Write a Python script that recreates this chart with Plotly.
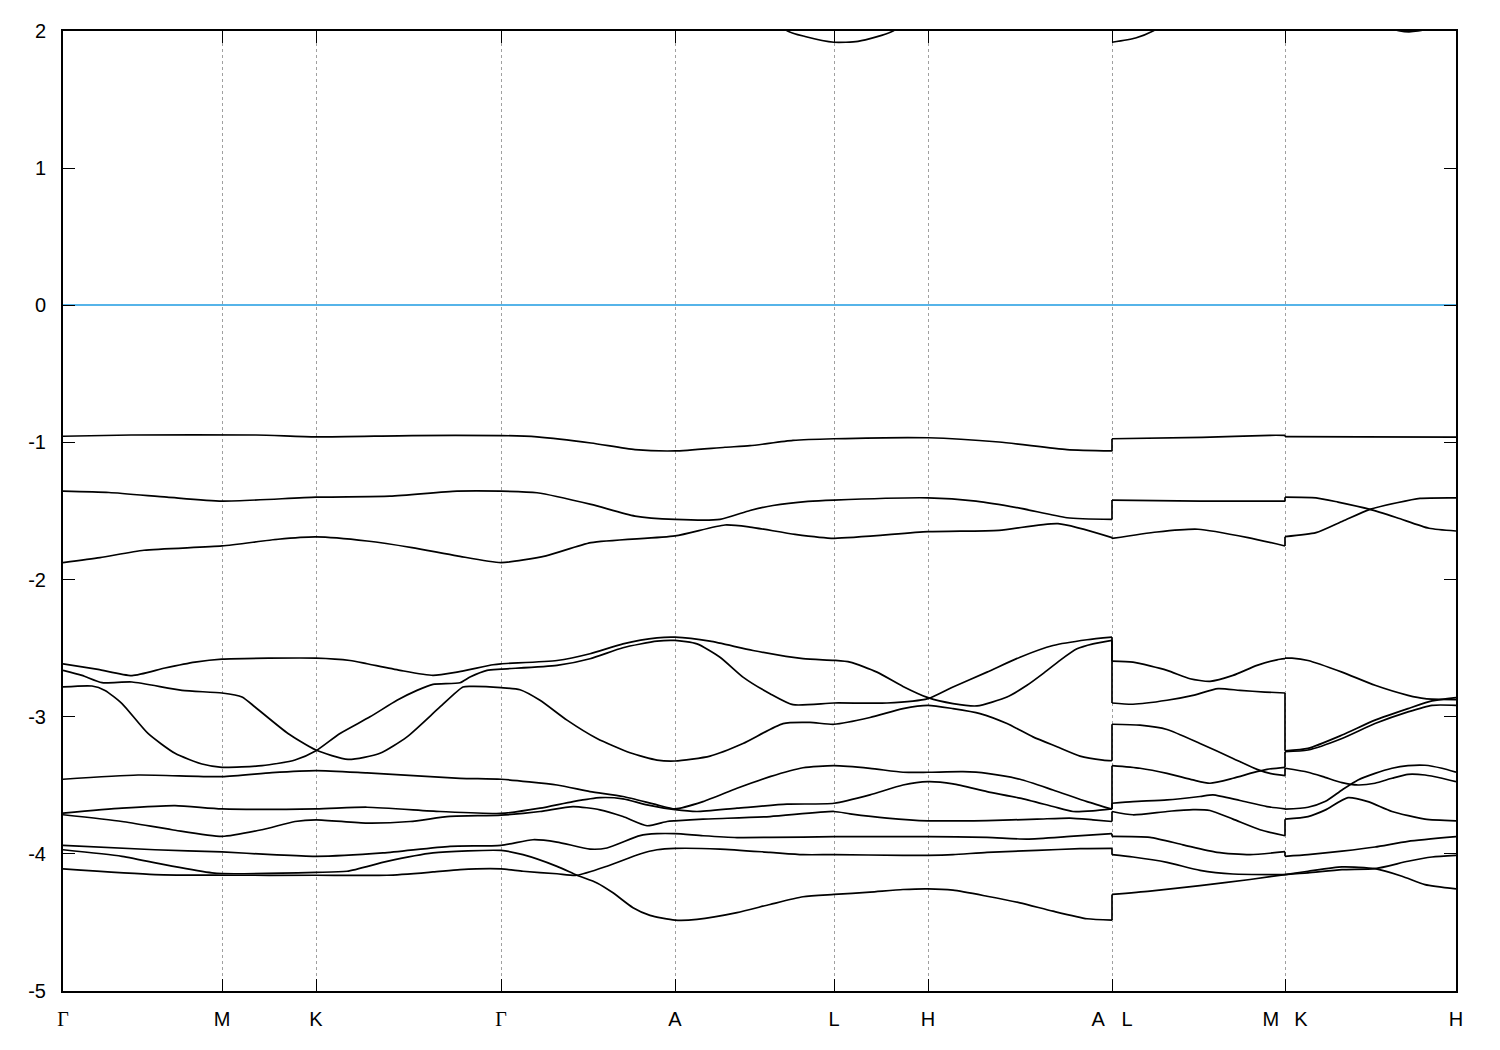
import numpy as np
import plotly.graph_objects as go

# ---------------- high-symmetry points (path coordinate) ----------------
kpt_pos = [0, 159, 253, 438, 612, 771, 865, 1049, 1222, 1393]
kpt_text = ['<span style="font-family:Liberation Serif">Γ</span>', "M", "K",
            '<span style="font-family:Liberation Serif">Γ</span>', "A", "L", "H",
            "A\u00a0\u00a0\u00a0L", "M\u00a0\u00a0\u2009K", "H"]
y_ticks = [-5, -4, -3, -2, -1, 0, 1, 2]
y_text = ["-5", "-4", "-3", "-2", "-1", "0", "1", "2"]

# ---------------- piece 1 : Γ-M-K-Γ-A-L-H-A ----------------
p1_b1_k = [0, 68, 193, 253, 349, 438, 474, 528, 572, 612, 662, 687, 730, 771, 865, 936, 1004, 1049]
p1_b1_E = [-0.955, -0.946, -0.946, -0.960, -0.950, -0.950, -0.960, -1.004, -1.052, -1.062, -1.035, -1.024,
           -0.985, -0.973, -0.966, -0.997, -1.052, -1.062]

p1_b2_k = [0, 46, 104, 159, 253, 327, 394, 438, 474, 528, 572, 612, 657, 687, 710, 745, 771, 865, 913, 958, 1004, 1049]
p1_b2_E = [-1.355, -1.365, -1.399, -1.428, -1.399, -1.392, -1.355, -1.355, -1.367, -1.452, -1.537, -1.561,
           -1.561, -1.496, -1.460, -1.430, -1.420, -1.404, -1.428, -1.481, -1.549, -1.561]

p1_b3_k = [0, 37, 81, 159, 215, 253, 304, 349, 394, 438, 483, 528, 612, 662, 687, 732, 771, 865, 936, 995, 1049]
p1_b3_E = [-1.876, -1.840, -1.786, -1.755, -1.706, -1.689, -1.719, -1.767, -1.827, -1.876, -1.827, -1.731,
           -1.682, -1.602, -1.617, -1.670, -1.699, -1.651, -1.641, -1.592, -1.694]

p1_b4_k = [0, 35, 69, 102, 132, 159, 253, 287, 304, 337, 370, 394, 430, 438, 494, 527, 560, 594, 612, 647,
           690, 740, 771, 787, 814, 840, 865, 890, 914, 944, 964, 980, 997, 1014, 1030, 1049]
p1_b4_E = [-2.614, -2.655, -2.700, -2.645, -2.602, -2.580, -2.573, -2.590, -2.614, -2.662, -2.699, -2.675,
           -2.621, -2.614, -2.590, -2.541, -2.469, -2.425, -2.420, -2.449, -2.517, -2.577, -2.589, -2.602,
           -2.675, -2.779, -2.861, -2.904, -2.921, -2.856, -2.771, -2.686, -2.589, -2.505, -2.469, -2.444]

p1_b5_k = [0, 29, 42, 59, 85, 112, 139, 159, 199, 232, 253, 277, 307, 334, 354, 370, 397, 407, 424, 438,
           494, 527, 560, 594, 612, 634, 657, 680, 707, 730, 771, 824, 865, 890, 924, 957, 990, 1024, 1049]
p1_b5_E = [-2.783, -2.776, -2.808, -2.904, -3.122, -3.267, -3.345, -3.369, -3.357, -3.316, -3.248, -3.122,
           -3.001, -2.880, -2.808, -2.764, -2.752, -2.711, -2.662, -2.653, -2.626, -2.577, -2.497, -2.449,
           -2.444, -2.469, -2.566, -2.711, -2.832, -2.912, -2.900, -2.900, -2.868, -2.783, -2.675, -2.566,
           -2.481, -2.439, -2.420]

p1_b6_k = [0, 19, 39, 69, 119, 159, 179, 192, 225, 253, 285, 317, 344, 377, 400, 410, 438, 457, 477, 504,
           534, 567, 594, 612, 647, 680, 720, 747, 771, 807, 840, 865, 890, 917, 944, 970, 994, 1017, 1040, 1049]
p1_b6_E = [-2.662, -2.699, -2.752, -2.747, -2.808, -2.827, -2.856, -2.929, -3.122, -3.243, -3.311, -3.267,
           -3.147, -2.929, -2.783, -2.779, -2.788, -2.803, -2.880, -3.025, -3.159, -3.263, -3.316, -3.323,
           -3.287, -3.195, -3.050, -3.042, -3.055, -3.006, -2.941, -2.917, -2.941, -2.977, -3.050, -3.147,
           -3.219, -3.287, -3.316, -3.321]

p1_b7_k = [0, 75, 159, 209, 253, 304, 397, 438, 494, 527, 560, 594, 612, 640, 674, 707, 740, 771, 807, 840,
           865, 900, 924, 957, 990, 1024, 1049]
p1_b7_E = [-3.456, -3.425, -3.437, -3.408, -3.393, -3.410, -3.449, -3.456, -3.498, -3.546, -3.582, -3.643,
           -3.672, -3.619, -3.522, -3.437, -3.372, -3.357, -3.376, -3.405, -3.405, -3.401, -3.413, -3.456,
           -3.534, -3.619, -3.674]

p1_b8_k = [0, 59, 112, 159, 253, 304, 377, 438, 477, 510, 537, 560, 584, 612, 634, 674, 724, 771, 807, 840,
           865, 890, 924, 957, 990, 1010, 1030, 1049]
p1_b8_E = [-3.703, -3.667, -3.648, -3.672, -3.672, -3.660, -3.691, -3.705, -3.667, -3.619, -3.590, -3.599,
           -3.643, -3.678, -3.691, -3.667, -3.638, -3.631, -3.570, -3.498, -3.474, -3.490, -3.546, -3.594,
           -3.655, -3.691, -3.686, -3.672]

p1_b9_k = [0, 59, 109, 159, 199, 232, 253, 304, 347, 387, 438, 477, 510, 537, 560, 584, 604, 612, 640, 707,
           771, 787, 824, 865, 924, 974, 1007, 1030, 1049]
p1_b9_E = [-3.715, -3.764, -3.824, -3.873, -3.824, -3.764, -3.752, -3.776, -3.764, -3.727, -3.718, -3.691,
           -3.655, -3.679, -3.728, -3.795, -3.764, -3.759, -3.747, -3.728, -3.691, -3.708, -3.739, -3.759,
           -3.757, -3.747, -3.739, -3.752, -3.764]

p1_b10_k = [0, 92, 159, 209, 253, 320, 387, 438, 470, 494, 527, 544, 577, 594, 612, 640, 674, 707, 771, 865,
            924, 964, 1007, 1049]
p1_b10_E = [-3.938, -3.970, -3.986, -4.006, -4.018, -3.993, -3.945, -3.938, -3.897, -3.914, -3.965, -3.957,
            -3.867, -3.853, -3.853, -3.868, -3.881, -3.880, -3.875, -3.875, -3.880, -3.892, -3.873, -3.853]

p1_b11_k = [0, 59, 109, 149, 159, 253, 284, 324, 370, 438, 460, 494, 514, 534, 550, 570, 587, 612, 634, 674,
            707, 740, 771, 807, 840, 865, 890, 924, 957, 990, 1024, 1049]
p1_b11_E = [-3.970, -4.018, -4.090, -4.139, -4.144, -4.135, -4.127, -4.055, -3.993, -3.975, -4.006, -4.091,
            -4.156, -4.212, -4.284, -4.393, -4.449, -4.483, -4.478, -4.429, -4.369, -4.313, -4.296, -4.279,
            -4.260, -4.255, -4.265, -4.309, -4.357, -4.418, -4.473, -4.483]

p1_b12_k = [0, 92, 159, 253, 324, 370, 397, 438, 460, 494, 514, 544, 577, 594, 612, 657, 707, 740, 771, 840,
            865, 890, 924, 974, 1017, 1049]
p1_b12_E = [-4.110, -4.151, -4.156, -4.156, -4.156, -4.132, -4.115, -4.110, -4.127, -4.145, -4.156, -4.090,
            -4.001, -3.970, -3.960, -3.965, -3.989, -4.006, -4.006, -4.011, -4.011, -4.006, -3.989, -3.975,
            -3.962, -3.960]

p1_cb_k = [690, 724.6, 742, 771, 795, 830, 860]
p1_cb_E = [2.25, 2.00, 1.96, 1.918, 1.925, 2.00, 2.20]

# ---------------- piece 2 : L-M ----------------
p2_b1_k = [1049, 1139, 1207, 1222]
p2_b1_E = [-0.973, -0.963, -0.948, -0.948]
p2_b2_k = [1049, 1137, 1222]
p2_b2_E = [-1.420, -1.428, -1.428]
p2_b3_k = [1049, 1094, 1135, 1185, 1222]
p2_b3_E = [-1.700, -1.653, -1.633, -1.694, -1.755]
p2_b4_k = [1049, 1070, 1104, 1127, 1147, 1170, 1194, 1214, 1222]
p2_b4_E = [-2.595, -2.602, -2.662, -2.723, -2.742, -2.699, -2.626, -2.585, -2.577]
p2_b5_k = [1049, 1070, 1104, 1130, 1155, 1177, 1202, 1222]
p2_b5_E = [-2.900, -2.909, -2.880, -2.844, -2.795, -2.808, -2.820, -2.827]
p2_b6_k = [1049, 1077, 1104, 1137, 1170, 1194, 1207, 1222]
p2_b6_E = [-3.055, -3.062, -3.093, -3.195, -3.304, -3.384, -3.413, -3.430]
p2_b7_k = [1049, 1077, 1104, 1130, 1147, 1170, 1190, 1204, 1222]
p2_b7_E = [-3.357, -3.376, -3.413, -3.461, -3.485, -3.449, -3.408, -3.384, -3.369]
p2_b8_k = [1049, 1070, 1104, 1137, 1150, 1177, 1204, 1222]
p2_b8_E = [-3.631, -3.619, -3.607, -3.582, -3.570, -3.611, -3.655, -3.672]
p2_b9_k = [1049, 1070, 1104, 1130, 1147, 1170, 1197, 1222]
p2_b9_E = [-3.691, -3.715, -3.691, -3.678, -3.684, -3.747, -3.824, -3.868]
p2_b10_k = [1049, 1087, 1120, 1154, 1187, 1222]
p2_b10_E = [-3.873, -3.880, -3.934, -3.989, -4.006, -3.984]
p2_b11_k = [1049, 1070, 1104, 1137, 1170, 1222]
p2_b11_E = [-4.006, -4.023, -4.062, -4.120, -4.147, -4.151]
p2_b12_k = [1049, 1087, 1137, 1187, 1222]
p2_b12_E = [-4.296, -4.272, -4.231, -4.187, -4.151]

p2_cb_k = [1049, 1072.6, 1090, 1120]
p2_cb_E = [1.918, 1.949, 2.00, 2.15]

# ---------------- piece 3 : K-H ----------------
p3_b1_k = [1222, 1298, 1393]
p3_b1_E = [-0.957, -0.960, -0.962]
p3_b2_k = [1222, 1253, 1275, 1307, 1334, 1366, 1393]
p3_b2_E = [-1.399, -1.404, -1.435, -1.488, -1.549, -1.626, -1.646]
p3_b3_k = [1222, 1253, 1280, 1307, 1334, 1357, 1393]
p3_b3_E = [-1.687, -1.658, -1.573, -1.488, -1.440, -1.408, -1.404]
p3_b4_k = [1222, 1229, 1245, 1279, 1312, 1345, 1362, 1393]
p3_b4_E = [-2.573, -2.573, -2.590, -2.675, -2.771, -2.844, -2.868, -2.875]
p3_b5_k = [1222, 1245, 1279, 1312, 1345, 1369, 1393]
p3_b5_E = [-3.248, -3.231, -3.134, -3.025, -2.941, -2.885, -2.861]
p3_b6_k = [1222, 1245, 1279, 1312, 1345, 1369, 1393]
p3_b6_E = [-3.255, -3.243, -3.159, -3.050, -2.965, -2.917, -2.917]
p3_b7_k = [1222, 1245, 1262, 1279, 1295, 1312, 1329, 1345, 1362, 1379, 1393]
p3_b7_E = [-3.376, -3.405, -3.442, -3.481, -3.498, -3.485, -3.449, -3.420, -3.425, -3.449, -3.474]
p3_b8_k = [1222, 1245, 1262, 1279, 1295, 1312, 1329, 1345, 1362, 1379, 1393]
p3_b8_E = [-3.674, -3.660, -3.619, -3.534, -3.461, -3.413, -3.376, -3.357, -3.354, -3.376, -3.405]
p3_b9_k = [1222, 1245, 1262, 1285, 1305, 1329, 1362, 1393]
p3_b9_E = [-3.747, -3.728, -3.681, -3.590, -3.619, -3.691, -3.747, -3.759]
p3_b10_k = [1222, 1245, 1279, 1312, 1345, 1393]
p3_b10_E = [-4.018, -4.006, -3.980, -3.950, -3.909, -3.875]
p3_b11_k = [1222, 1245, 1279, 1312, 1339, 1362, 1393]
p3_b11_E = [-4.151, -4.127, -4.095, -4.108, -4.163, -4.224, -4.255]
p3_b12_k = [1222, 1245, 1279, 1312, 1345, 1369, 1393]
p3_b12_E = [-4.151, -4.139, -4.115, -4.108, -4.054, -4.023, -4.011]

p3_cb_k = [1300, 1337, 1346, 1355, 1393]
p3_cb_E = [2.08, 2.00, 1.994, 2.00, 2.06]

piece1 = [(p1_b1_k, p1_b1_E), (p1_b2_k, p1_b2_E), (p1_b3_k, p1_b3_E), (p1_b4_k, p1_b4_E),
          (p1_b5_k, p1_b5_E), (p1_b6_k, p1_b6_E), (p1_b7_k, p1_b7_E), (p1_b8_k, p1_b8_E),
          (p1_b9_k, p1_b9_E), (p1_b10_k, p1_b10_E), (p1_b11_k, p1_b11_E), (p1_b12_k, p1_b12_E)]
piece2 = [(p2_b1_k, p2_b1_E), (p2_b2_k, p2_b2_E), (p2_b3_k, p2_b3_E), (p2_b4_k, p2_b4_E),
          (p2_b5_k, p2_b5_E), (p2_b6_k, p2_b6_E), (p2_b7_k, p2_b7_E), (p2_b8_k, p2_b8_E),
          (p2_b9_k, p2_b9_E), (p2_b10_k, p2_b10_E), (p2_b11_k, p2_b11_E), (p2_b12_k, p2_b12_E)]
piece3 = [(p3_b1_k, p3_b1_E), (p3_b2_k, p3_b2_E), (p3_b3_k, p3_b3_E), (p3_b4_k, p3_b4_E),
          (p3_b5_k, p3_b5_E), (p3_b6_k, p3_b6_E), (p3_b7_k, p3_b7_E), (p3_b8_k, p3_b8_E),
          (p3_b9_k, p3_b9_E), (p3_b10_k, p3_b10_E), (p3_b11_k, p3_b11_E), (p3_b12_k, p3_b12_E)]
conduction = [(p1_cb_k, p1_cb_E), (p2_cb_k, p2_cb_E), (p3_cb_k, p3_cb_E)]

fig = go.Figure()
line_style = dict(color="black", width=1.7, shape="spline", smoothing=0.6)

for piece in (piece1, piece2, piece3):
    for k, E in piece:
        fig.add_trace(go.Scatter(x=k, y=E, mode="lines", line=line_style, hoverinfo="skip"))
for k, E in conduction:
    fig.add_trace(go.Scatter(x=k, y=E, mode="lines", line=line_style, hoverinfo="skip"))

# band-index connectors at path discontinuities (A|L and M|K)
def connectors(left, right):
    k_left = left[0][0][-1]
    ends = sorted([E[-1] for _, E in left], reverse=True)
    starts = sorted([E[0] for _, E in right], reverse=True)
    xs, ys = [], []
    for e0, e1 in zip(ends, starts):
        xs += [k_left, k_left, None]
        ys += [e0, e1, None]
    return xs, ys

for left, right in ((piece1, piece2), (piece2, piece3)):
    xs, ys = connectors(left, right)
    fig.add_trace(go.Scatter(x=xs, y=ys, mode="lines", line=dict(color="black", width=1.7),
                             hoverinfo="skip"))

font = dict(family="Liberation Sans, Arial, sans-serif", size=20, color="black")

fig.update_layout(
    width=1500, height=1050,
    margin=dict(l=55, r=52, t=19, b=67),
    paper_bgcolor="white", plot_bgcolor="white",
    showlegend=False,
    font=font,
    xaxis=dict(range=[0, 1393], tickmode="array", tickvals=kpt_pos, ticktext=kpt_text,
               ticks="inside", ticklen=12, tickwidth=1, tickcolor="black", mirror="ticks",
               showline=True, linecolor="black", linewidth=2,
               showgrid=True, gridcolor="#a0a0a0", griddash="dot", gridwidth=1,
               zeroline=False, tickfont=font, ticklabelstandoff=9),
    yaxis=dict(range=[-5, 2], tickmode="array", tickvals=y_ticks, ticktext=y_text,
               ticks="inside", ticklen=12, tickwidth=1, tickcolor="black", mirror="ticks",
               showline=True, linecolor="black", linewidth=2,
               showgrid=False, zeroline=True, zerolinecolor="#56b4e9", zerolinewidth=1.5,
               tickfont=font, ticklabelstandoff=11),
)

fig.write_html("out.html")
